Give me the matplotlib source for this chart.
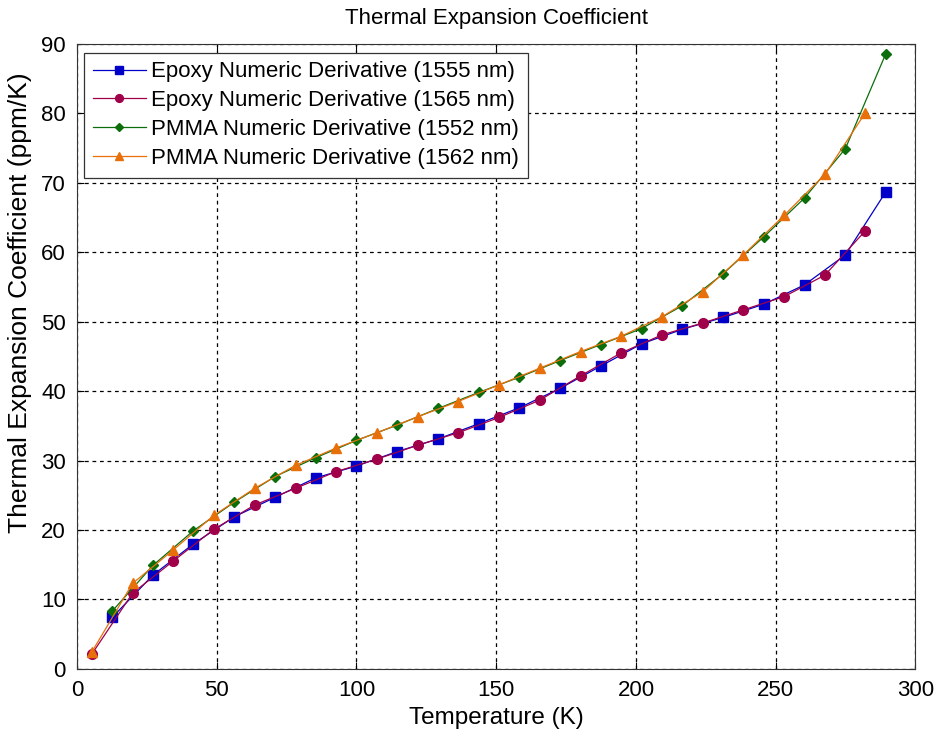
import matplotlib
matplotlib.use("Agg")
from matplotlib import pyplot as plt

plt.rcParams['font.family'] = ['Liberation Sans', 'DejaVu Sans']

# temperatures (K) for the two sampling grids
temp_a = [5.3, 19.9, 34.4, 49.0, 63.6, 78.2, 92.7, 107.3, 121.9, 136.4,
          151.0, 165.6, 180.2, 194.7, 209.3, 223.9, 238.4, 253.0, 267.6, 282.1]
temp_b = [12.6, 27.2, 41.7, 56.3, 70.9, 85.4, 100.0, 114.6, 129.2, 143.7,
          158.3, 172.9, 187.4, 202.0, 216.6, 231.2, 245.7, 260.3, 274.9, 289.4]

# thermal expansion coefficient (ppm/K)
epoxy_1555 = [7.4, 13.5, 18.0, 21.9, 24.7, 27.5, 29.2, 31.3, 33.1, 35.3,
              37.6, 40.4, 43.6, 46.8, 48.9, 50.6, 52.5, 55.3, 59.6, 68.7]
epoxy_1565 = [2.1, 10.9, 15.5, 20.1, 23.6, 26.0, 28.4, 30.2, 32.2, 34.0,
              36.2, 38.7, 42.2, 45.5, 48.1, 49.8, 51.7, 53.6, 56.7, 63.1]
pmma_1552 = [8.3, 14.9, 19.9, 24.0, 27.7, 30.4, 32.9, 35.1, 37.5, 39.8,
             42.0, 44.4, 46.7, 49.0, 52.3, 56.9, 62.2, 67.8, 74.9, 88.6]
pmma_1562 = [2.4, 12.3, 17.1, 22.1, 26.0, 29.3, 31.8, 34.0, 36.3, 38.5,
             40.9, 43.3, 45.7, 47.9, 50.7, 54.3, 59.6, 65.3, 71.2, 80.1]

labels = ['Epoxy Numeric Derivative (1555 nm)',
          'Epoxy Numeric Derivative (1565 nm)',
          'PMMA Numeric Derivative (1552 nm)',
          'PMMA Numeric Derivative (1562 nm)']

fig = plt.figure(figsize=(9.38, 7.31), dpi=100)
ax = fig.add_axes([0.082, 0.085, 0.894, 0.855])

ax.plot(temp_b, epoxy_1555, '-s', color='#0000c8', lw=0.9, ms=7, label=labels[0])
ax.plot(temp_a, epoxy_1565, '-o', color='#a0004a', lw=0.9, ms=7, label=labels[1])
ax.plot(temp_b, pmma_1552, '-D', color='#0b6e0b', lw=0.9, ms=5.5, label=labels[2])
ax.plot(temp_a, pmma_1562, '-^', color='#e8700a', lw=0.9, ms=7, label=labels[3])

ax.set_xlim(0, 300)
ax.set_ylim(0, 90)
ax.set_xticks(range(0, 301, 50))
ax.set_yticks(range(0, 91, 10))
ax.grid(True, color='black', linestyle=(0, (3, 3)), linewidth=0.9)
ax.tick_params(labelsize=16, direction='in', length=5, width=0.8, pad=8,
               top=True, right=True)
for s in ax.spines.values():
    s.set_color('#333333')

ax.set_title('Thermal Expansion Coefficient', fontsize=16, pad=14)
ax.set_xlabel('Temperature (K)', fontsize=17.5, labelpad=4)
ax.set_ylabel('Thermal Expansion Coefficient (ppm/K)', fontsize=19, va='center')
ax.yaxis.set_label_coords(-0.068, 0.586)

leg = ax.legend(loc='upper left', bbox_to_anchor=(0.008, 0.986), borderaxespad=0,
                fontsize=16, fancybox=False, framealpha=1, edgecolor='#333333',
                handlelength=2.4, handletextpad=0.25, labelspacing=0.35,
                markerscale=0.8)
leg.get_frame().set_linewidth(0.9)

fig.savefig('out.png', dpi=100)
